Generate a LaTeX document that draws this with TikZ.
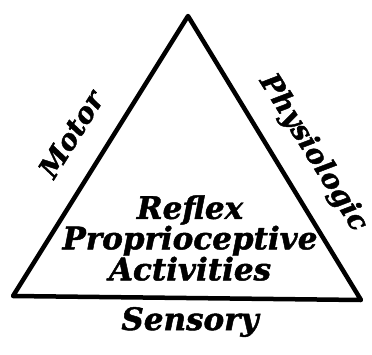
\documentclass[tikz,border=0pt]{standalone}
\usepackage{fontspec}
\setmainfont{DejaVu Serif}[BoldItalicFeatures={FakeBold=1.5}]
\begin{document}
\begin{tikzpicture}[x=1pt,y=-1pt,
  lbl/.style={font=\fontsize{31}{24}\selectfont\bfseries\itshape, inner sep=0pt, align=center}]
\useasboundingbox (0,0) rectangle (372,354);
\coordinate (top) at (188,16);
\coordinate (bl) at (13,296);
\coordinate (br) at (361,300);
\draw[line width=4.5pt, line join=round] (top) -- (br) -- (bl) -- cycle;
\node[lbl] (center) at (190,238) {Reflex\\Proprioceptive\\Activities};
\node[lbl] (sensory) at (190,322) {Sensory};
\node[lbl, font=\fontsize{28}{28}\selectfont\bfseries\itshape, rotate=58] (motor) at (71,134) {Motor};
\node[lbl, font=\fontsize{28}{28}\selectfont\bfseries\itshape, rotate=-58] (physio) at (313,153) {Physiologic};
\end{tikzpicture}
\end{document}
